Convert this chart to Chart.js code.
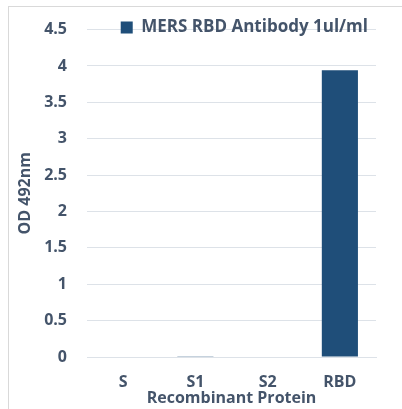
<!DOCTYPE html>
<html>
<head>
<meta charset="utf-8">
<script src="https://cdn.jsdelivr.net/npm/chart.js@4"></script>
<style>
  body { margin: 0; background: #fff; overflow: hidden; }
  #wrap { position: relative; width: 402px; height: 409px; }
  #frame { position: absolute; left: 8px; top: 6px; width: 420px; height: 420px; border: 1px solid #d9d9d9; pointer-events: none; }
</style>
</head>
<body>
<div id="wrap">
  <canvas id="chart" width="402" height="409"></canvas>
  <div id="frame"></div>
</div>
<script>
const categories = ["S", "S1", "S2", "RBD"];
const odValues = [0, 0.01, 0, 3.94];
const seriesName = "MERS RBD Antibody 1ul/ml";
const yTicks = [0, 0.5, 1, 1.5, 2, 2.5, 3, 3.5, 4, 4.5];

const TEXT = "#44546A";
const BAR = "#1F4E79";
const GRID = "#dde2e8";
const FONT = "'Open Sans', sans-serif";

// move the legend up/right so the 4.5 gridline runs through it, like the original
const legendShift = {
  id: "legendShift",
  afterUpdate(chart) {
    const lg = chart.legend;
    if (!lg || !lg.columnSizes || !lg.columnSizes.length) return;
    const pad = lg.options.labels.padding;
    const w = lg.right - lg.left;
    lg.top += 9;
    lg.bottom += 9;
    lg.left = 368 - lg.columnSizes[0].width - pad;
    lg.right = lg.left + w;
  },
};

document.addEventListener("DOMContentLoaded", () => {
  const canvas = document.getElementById("chart");
  new Chart(canvas, {
    type: "bar",
    data: {
      labels: categories,
      datasets: [
        {
          label: seriesName,
          data: odValues,
          backgroundColor: BAR,
          borderWidth: 0,
          barPercentage: 0.5,
          categoryPercentage: 1,
        },
      ],
    },
    options: {
      responsive: false,
      animation: false,
      layout: { padding: { top: 27, right: 26, bottom: 0, left: 0 } },
      plugins: {
        tooltip: { enabled: false },
        legend: {
          position: "chartArea",
          align: "start",
          labels: {
            color: TEXT,
            font: { family: FONT, size: 17, weight: "bold" },
            boxWidth: 12,
            boxHeight: 12,
            padding: 10,
          },
        },
      },
      scales: {
        x: {
          grid: { display: false, drawTicks: false },
          border: { color: GRID },
          ticks: { color: TEXT, font: { family: FONT, size: 16, weight: "bold" }, padding: 16 },
          title: {
            display: true,
            text: "Recombinant Protein",
            color: TEXT,
            font: { family: FONT, size: 16, weight: "bold", lineHeight: 1 },
            padding: { top: 0, bottom: 3 },
          },
          afterFit: (s) => { s.height = 52; },
        },
        y: {
          min: 0,
          max: 4.5,
          afterBuildTicks: (s) => { s.ticks = yTicks.map((v) => ({ value: v })); },
          grid: { color: GRID, drawTicks: false },
          border: { display: false },
          ticks: {
            color: TEXT,
            font: { family: FONT, size: 16, weight: "bold" },
            padding: 20,
            callback: (v) => String(v),
          },
          title: {
            display: true,
            text: "OD 492nm",
            color: TEXT,
            font: { family: FONT, size: 16, weight: "bold", lineHeight: 1 },
            padding: { top: 17, bottom: 0 },
          },
          afterFit: (s) => { s.width = 87; },
        },
      },
    },
    plugins: [legendShift],
  });
});
</script>
</body>
</html>
